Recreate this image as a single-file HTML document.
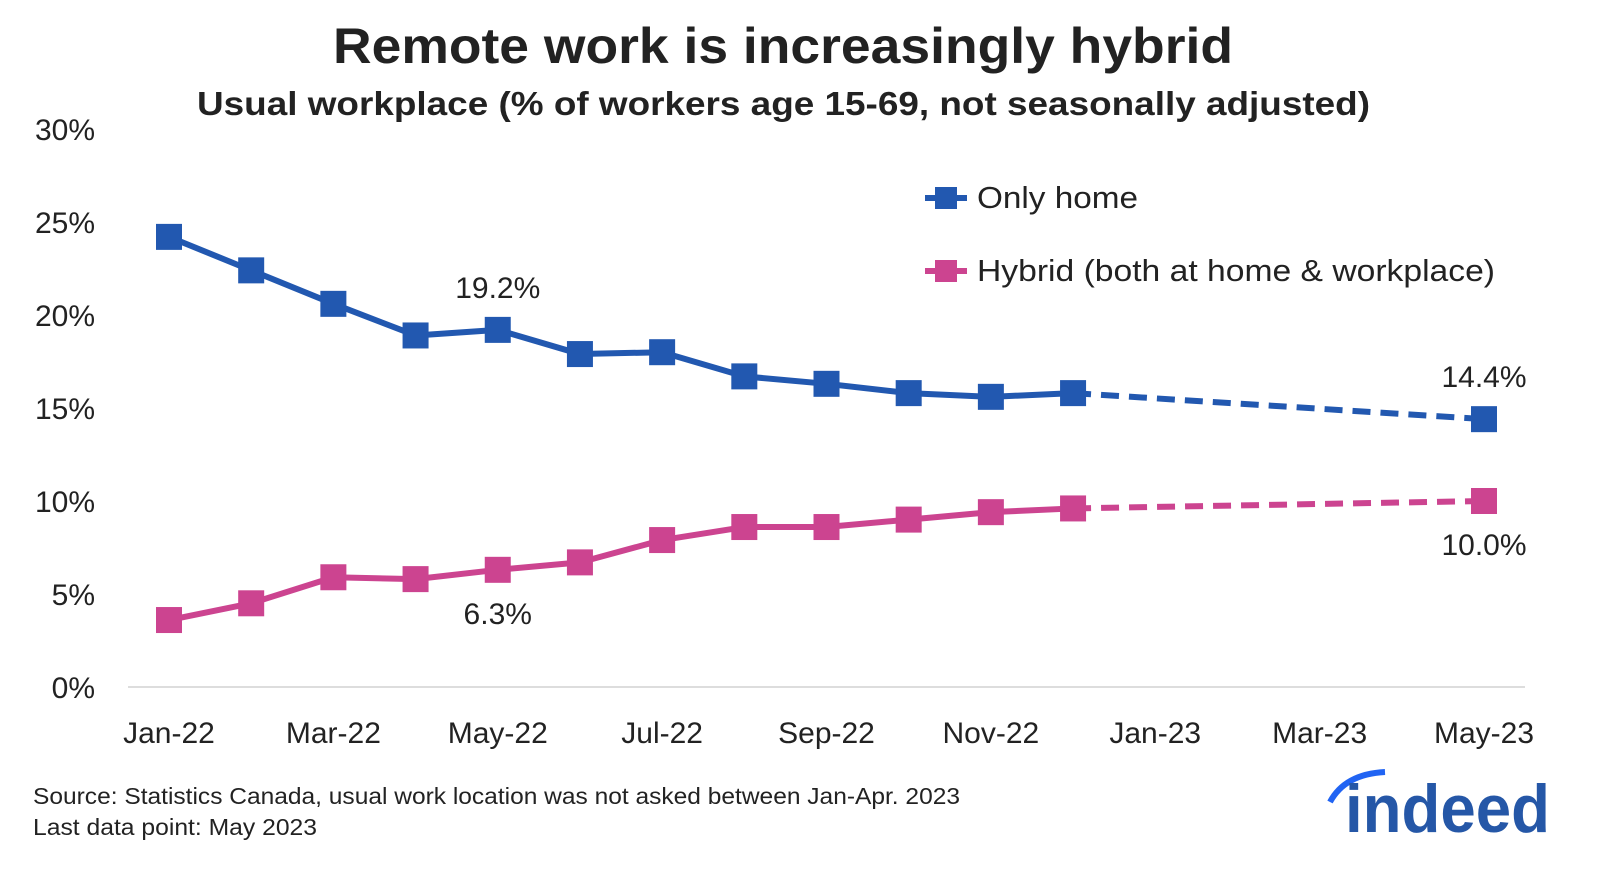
<!DOCTYPE html>
<html><head><meta charset="utf-8"><style>
body{margin:0;background:#fff;font-family:"Liberation Sans","DejaVu Sans",sans-serif;}
#wrap{position:relative;width:1600px;height:874px;overflow:hidden;}
</style></head><body>
<div id="wrap">
<svg id="chart" width="1600" height="874" xmlns="http://www.w3.org/2000/svg">
<text x="333" y="63" textLength="900" lengthAdjust="spacingAndGlyphs" font-size="50" font-weight="bold" fill="#222">Remote work is increasingly hybrid</text>
<text x="197" y="115" textLength="1173" lengthAdjust="spacingAndGlyphs" font-size="33" font-weight="bold" fill="#222">Usual workplace (% of workers age 15-69, not seasonally adjusted)</text>
<g id="yaxis"></g><g id="xaxis"></g><g id="series"></g>
<g>
<g>
<line x1="925" y1="198" x2="967" y2="198" stroke="#2258b0" stroke-width="6"/><rect x="935" y="187" width="22" height="22" fill="#2258b0"/>
<text x="977" y="208" textLength="161" lengthAdjust="spacingAndGlyphs" font-size="31" fill="#222">Only home</text></g>
<g>
<line x1="925" y1="271" x2="967" y2="271" stroke="#cc4490" stroke-width="6"/><rect x="935" y="260" width="22" height="22" fill="#cc4490"/>
<text x="977" y="281" textLength="518" lengthAdjust="spacingAndGlyphs" font-size="31" fill="#222">Hybrid (both at home &amp; workplace)</text></g>
</g>
<text x="33" y="804" textLength="927" lengthAdjust="spacingAndGlyphs" font-size="23" fill="#222">Source: Statistics Canada, usual work location was not asked between Jan-Apr. 2023</text>
<text x="33" y="835" textLength="284" lengthAdjust="spacingAndGlyphs" font-size="23" fill="#222">Last data point: May 2023</text>
<g>
<path d="M1330 802 Q1345 774 1385 772" stroke="#2164f3" stroke-width="6" fill="none"/>
<text x="1345" y="832" textLength="205" lengthAdjust="spacingAndGlyphs" font-size="68" font-weight="bold" fill="#2557a7">indeed</text>
</g>
</svg>
</div>
<script>
const months=["Jan-22","Feb-22","Mar-22","Apr-22","May-22","Jun-22","Jul-22","Aug-22","Sep-22","Oct-22","Nov-22","Dec-22","Jan-23","Feb-23","Mar-23","Apr-23","May-23"];
const xTickLabels=["Jan-22","Mar-22","May-22","Jul-22","Sep-22","Nov-22","Jan-23","Mar-23","May-23"];
const yTicks=[0,5,10,15,20,25,30];
const onlyHome=[24.2,22.4,20.6,18.9,19.2,17.9,18.0,16.7,16.3,15.8,15.6,15.8,null,null,null,null,14.4];
const hybrid=[3.6,4.5,5.9,5.8,6.3,6.7,7.9,8.6,8.6,9.0,9.4,9.6,null,null,null,null,10.0];
const NS="http://www.w3.org/2000/svg";
const x=i=>169+i*(1484-169)/16;
const y=v=>687-v*(687-129)/30;
function mk(t,a,p){const e=document.createElementNS(NS,t);for(const k in a)e.setAttribute(k,a[k]);p.appendChild(e);return e;}
const ya=document.getElementById('yaxis'),xa=document.getElementById('xaxis'),sg=document.getElementById('series');
const base=mk('line',{x1:128,x2:1525,y1:y(0),y2:y(0),stroke:'#ddd','stroke-width':2},ya);


yTicks.forEach(v=>{const t=mk('text',{x:95,y:y(v)+11,'text-anchor':'end','font-size':30,fill:'#222'},ya);t.textContent=v+'%';

});
xTickLabels.forEach(l=>{const i=months.indexOf(l);const t=mk('text',{x:x(i),y:743,'text-anchor':'middle','font-size':30,fill:'#222'},xa);t.textContent=l;

});
function draw(vals,color,name,labels){
 const g=mk('g',{},sg);
 
 
 const idx=vals.map((v,i)=>v==null?-1:i).filter(i=>i>=0);
 const solid=idx.filter(i=>i<=11);
 mk('polyline',{points:solid.map(i=>x(i)+','+y(vals[i])).join(' '),fill:'none',stroke:color,'stroke-width':6,'stroke-linejoin':'round'},g);
 const last=idx[idx.length-1];
 mk('line',{x1:x(11),y1:y(vals[11]),x2:x(last),y2:y(vals[last]),stroke:color,'stroke-width':6,'stroke-dasharray':'18,10'},g);
 idx.forEach(i=>{const r=mk('rect',{x:x(i)-13,y:y(vals[i])-13,width:26,height:26,fill:color},g);
 
 });
 labels.forEach(([i,dy])=>{const t=mk('text',{x:x(i),y:y(vals[i])+dy,'text-anchor':'middle','font-size':30,fill:'#222'},g);t.textContent=vals[i].toFixed(1)+'%';
 
 });
}
draw(onlyHome,'#2258b0','only-home',[[4,-32],[16,-32]]);
draw(hybrid,'#cc4490','hybrid',[[4,54],[16,54]]);
</script>
</body></html>
